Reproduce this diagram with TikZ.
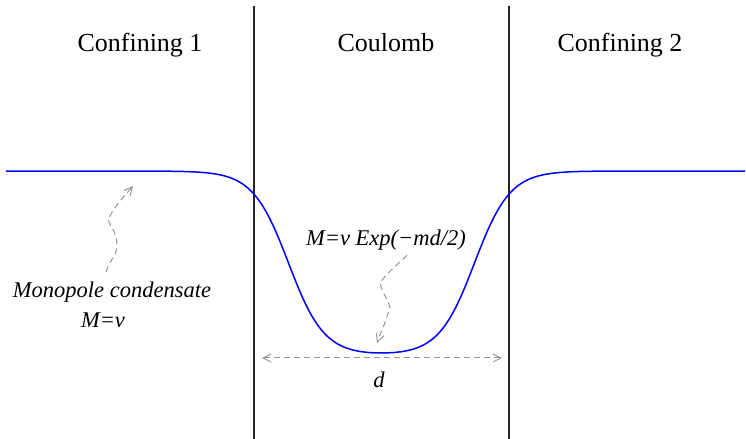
\documentclass[tikz,border=0pt]{standalone}
\usepackage{fontspec}
\setmainfont{Liberation Serif}
\usetikzlibrary{arrows.meta}
\definecolor{wellblue}{RGB}{0,0,255}
\definecolor{pointgray}{RGB}{150,150,150}

\begin{document}
\begin{tikzpicture}[x=0.5pt,y=0.5pt,
    region/.style={anchor=base,inner sep=0pt,font=\fontsize{13}{15}\selectfont},
    note/.style={anchor=base,inner sep=0pt,font=\fontsize{11.25}{13}\selectfont\itshape},
    wall/.style={line width=0.6pt,black!85},
    dashgray/.style={pointgray,line width=0.5pt,dash pattern=on 3pt off 2pt},
    wiggle/.style={dashgray,-{Straight Barb[length=4pt,width=4pt]}},
    declare function={clip(\t)=min(max(\t,-9),9);
      well(\t)=268-184*(1/(1+exp(clip((\t-474.5)/17.8)))+1/(1+exp(clip((288.5-\t)/17.8)))-1);}]
    \useasboundingbox (0,0) rectangle (746,439);
    \draw[wall] (254,0) -- (254,433);
    \draw[wall] (509,0) -- (509,433);
    \node[region] (conf1) at (140,387) {Confining 1};
    \node[region] (coul) at (386,387) {Coulomb};
    \node[region] (conf2) at (620,387) {Confining 2};
    \draw[wellblue,line width=0.75pt] plot[domain=6:745,samples=300] (\x,{well(\x)});
    \node[note] (mono) at (112,141) {Monopole condensate};
    \node[note] (monoeq) at (103,111) {M=v};
    \node[note] (expl) at (386,193) {M=v Exp(−md/2)};
    \node[note] (dlabel) at (379,51) {d};
    \coordinate (flat) at (133,253);
    \coordinate (bottom) at (377,96);
    \coordinate (dleft) at (262,81);
    \coordinate (dright) at (502,81);
    \draw[wiggle] ([xshift=-3pt,yshift=5pt]mono.north) to[out=75,in=-85] (117,196)
      to[out=95,in=-65] (108,219) to[out=65,in=-130] (flat);
    \draw[wiggle] ([xshift=10.5pt,yshift=-2pt]expl.south) to[out=226,in=55] (380,156)
      to[out=285,in=110] (390,132) to[out=255,in=70] (bottom);
    \draw[dashgray,{Straight Barb[length=4pt,width=4pt]}-{Straight Barb[length=4pt,width=4pt]}] (dleft) -- (dright);
\end{tikzpicture}
\end{document}
